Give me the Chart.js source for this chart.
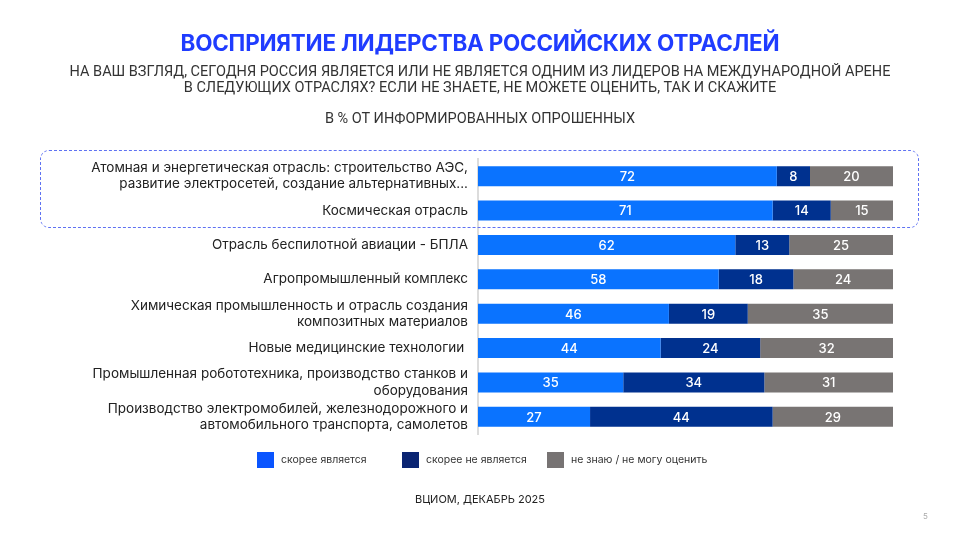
<!DOCTYPE html>
<html>
<head>
<meta charset="utf-8">
<script src="https://cdn.jsdelivr.net/npm/chart.js@4.4.1/dist/chart.umd.min.js"></script>
<style>
  html, body { margin: 0; padding: 0; background: #fff; }
  #page { position: relative; width: 960px; height: 540px; overflow: hidden; font-family: Inter, "Noto Sans", sans-serif; }
  #chart { position: absolute; left: 0; top: 0; }
  .t { position: absolute; left: 0; width: 960px; text-align: center; }
  #title { top: 29px; font-size: 22.4px; font-weight: 700; color: #1f3cff; letter-spacing: -0.2px; }
  .sub { font-size: 14.5px; color: #333; font-family: Roboto, sans-serif; }
  #box { position: absolute; left: 40px; top: 150px; width: 879px; height: 78px; border: 1px dashed #5f72f2; border-radius: 9px; box-sizing: border-box; }
  #legend { position: absolute; top: 452px; left: 0; width: 960px; height: 20px; }
  .li { position: absolute; top: 0; font-size: 10.5px; color: #333; line-height: 16px; white-space: nowrap; }
  .li span { display: inline-block; width: 17px; height: 16px; vertical-align: top; margin-right: 7px; }
  #src { top: 492px; font-size: 11px; color: #222; }
  #pg { position: absolute; left: 923px; top: 511px; font-size: 8px; color: #aaa; }
</style>
</head>
<body>
<div id="page">
  <canvas id="chart" width="960" height="540"></canvas>
  <div class="t" id="title">ВОСПРИЯТИЕ ЛИДЕРСТВА РОССИЙСКИХ ОТРАСЛЕЙ</div>
  <div class="t sub" style="top:63px">НА ВАШ ВЗГЛЯД, СЕГОДНЯ РОССИЯ ЯВЛЯЕТСЯ ИЛИ НЕ ЯВЛЯЕТСЯ ОДНИМ ИЗ ЛИДЕРОВ НА МЕЖДУНАРОДНОЙ АРЕНЕ</div>
  <div class="t sub" style="top:79px">В СЛЕДУЮЩИХ ОТРАСЛЯХ? ЕСЛИ НЕ ЗНАЕТЕ, НЕ МОЖЕТЕ ОЦЕНИТЬ, ТАК И СКАЖИТЕ</div>
  <div class="t sub" style="top:110px">В % ОТ ИНФОРМИРОВАННЫХ ОПРОШЕННЫХ</div>
  <div id="box"></div>
  <div id="legend"></div>
  <div class="t" id="src">ВЦИОМ, ДЕКАБРЬ 2025</div>
  <div id="pg">5</div>
</div>
<script>
// данные
const categories = [
  ['Атомная и энергетическая отрасль: строительство АЭС,', 'развитие электросетей, создание альтернативных...'],
  'Космическая отрасль',
  'Отрасль беспилотной авиации - БПЛА',
  'Агропромышленный комплекс',
  ['Химическая промышленность и отрасль создания', 'композитных материалов'],
  'Новые медицинские технологии ',
  ['Промышленная робототехника, производство станков и', 'оборудования'],
  ['Производство электромобилей, железнодорожного и', 'автомобильного транспорта, самолетов']
];
const seriesNames = ['скорее является', 'скорее не является', 'не знаю / не могу оценить'];
const isLeader = [72, 71, 62, 58, 46, 44, 35, 27];
const notLeader = [8, 14, 13, 18, 19, 24, 34, 44];
const dontKnow = [20, 15, 25, 24, 35, 32, 31, 29];
const colors = ['#0a73ff', '#00318f', '#787473'];
const legendColors = ['#0a55ff', '#0a2472', '#777373'];
const legendX = [257, 402, 547];

// подписи внутри сегментов
const valueLabels = {
  id: 'valueLabels',
  afterDatasetsDraw(chart) {
    const c = chart.ctx;
    c.save();
    c.fillStyle = '#fff';
    c.font = '500 13px Inter, sans-serif';
    c.textAlign = 'center';
    c.textBaseline = 'middle';
    chart.data.datasets.forEach((ds, i) => {
      chart.getDatasetMeta(i).data.forEach((bar, j) => {
        c.fillText(ds.data[j], (bar.x + bar.base) / 2, bar.y + 1);
      });
    });
    c.restore();
  }
};

new Chart(document.getElementById('chart'), {
  type: 'bar',
  data: {
    labels: categories,
    datasets: [isLeader, notLeader, dontKnow].map((d, i) => ({
      label: seriesNames[i],
      data: d,
      backgroundColor: colors[i],
      barPercentage: 0.58,
      categoryPercentage: 1
    }))
  },
  options: {
    indexAxis: 'y',
    responsive: false,
    animation: false,
    layout: { padding: { top: 159, bottom: 106, right: 67, left: 0 } },
    plugins: { legend: { display: false }, tooltip: { enabled: false } },
    scales: {
      x: { stacked: true, min: 0, max: 100, display: false },
      y: {
        stacked: true,
        grid: { display: false, drawTicks: false },
        border: { color: '#dcdcdc', width: 2 },
        ticks: {
          autoSkip: false,
          color: '#222',
          padding: 10,
          font: { family: 'Inter, sans-serif', size: 13.5, lineHeight: 1.2 }
        },
        afterFit(scale) { scale.width = 478; }
      }
    }
  },
  plugins: [valueLabels]
});

// легенда
const legend = document.getElementById('legend');
seriesNames.forEach((n, i) => {
  const d = document.createElement('div');
  d.className = 'li';
  d.style.left = legendX[i] + 'px';
  d.innerHTML = '<span style="background:' + legendColors[i] + '"></span>' + n;
  legend.appendChild(d);
});
</script>
</body>
</html>
